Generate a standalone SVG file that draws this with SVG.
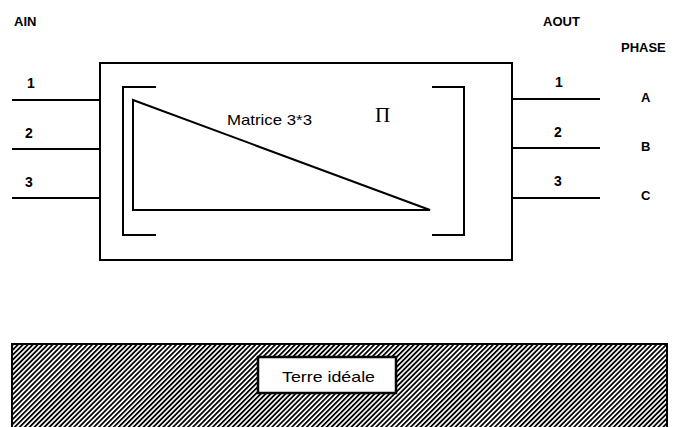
<svg xmlns="http://www.w3.org/2000/svg" width="675" height="427" viewBox="0 0 675 427">
<style>
.ln{stroke:#000;stroke-width:2;fill:none}
.lb{font-family:"Liberation Sans",Arial,sans-serif;font-weight:bold;font-size:13px;fill:#000}
.nm{font-family:"Liberation Sans",Arial,sans-serif;font-weight:bold;font-size:14px;fill:#000}
.tx{font-family:"Liberation Sans",Arial,sans-serif;font-size:15px;fill:#000}
</style>
<defs>
<pattern id="hatch" width="3.5" height="10" patternUnits="userSpaceOnUse" patternTransform="rotate(45)">
<rect x="0" y="0" width="1.8" height="10" fill="#000"/>
</pattern>
</defs>
<rect width="675" height="427" fill="#fff"/>
<g id="labels">
<text class="lb" x="14" y="26">AIN</text>
<text class="lb" x="543" y="26">AOUT</text>
<text class="lb" x="621" y="52">PHASE</text>
<text class="nm" x="27" y="88">1</text>
<text class="nm" x="25" y="138">2</text>
<text class="nm" x="25" y="187">3</text>
<text class="nm" x="555" y="87">1</text>
<text class="nm" x="554" y="137">2</text>
<text class="nm" x="554" y="186">3</text>
<text class="lb" x="641" y="102">A</text>
<text class="lb" x="641" y="151">B</text>
<text class="lb" x="641" y="200">C</text>
</g>
<g id="connectors">
<line class="ln" x1="12" y1="100" x2="100" y2="100"/>
<line class="ln" x1="12" y1="149" x2="100" y2="149"/>
<line class="ln" x1="12" y1="198" x2="100" y2="198"/>
<line class="ln" x1="512" y1="99" x2="600" y2="99"/>
<line class="ln" x1="512" y1="148" x2="600" y2="148"/>
<line class="ln" x1="512" y1="198" x2="600" y2="198"/>
</g>
<g id="matrix">
<rect class="ln" x="100" y="63" width="412" height="197"/>
<polyline class="ln" points="156,87 123,87 123,235 156,235"/>
<polyline class="ln" points="432,87 464,87 464,235 432,235"/>
<polygon class="ln" points="133,100 133,210 430,210"/>
<text class="tx" x="227" y="125" textLength="85" lengthAdjust="spacingAndGlyphs">Matrice 3*3</text>
<text x="375" y="122" font-family="'Liberation Serif','Times New Roman',serif" font-size="21px" fill="#000">Π</text>
</g>
<g id="ground">
<rect x="12" y="344" width="655" height="84" fill="url(#hatch)" stroke="#000" stroke-width="2"/>
<g id="terre">
<rect x="258" y="357" width="138" height="36" fill="#fff" stroke="#000" stroke-width="2.5"/>
<text class="tx" x="282" y="382" textLength="93" lengthAdjust="spacingAndGlyphs">Terre idéale</text>
</g>
</g>
</svg>
